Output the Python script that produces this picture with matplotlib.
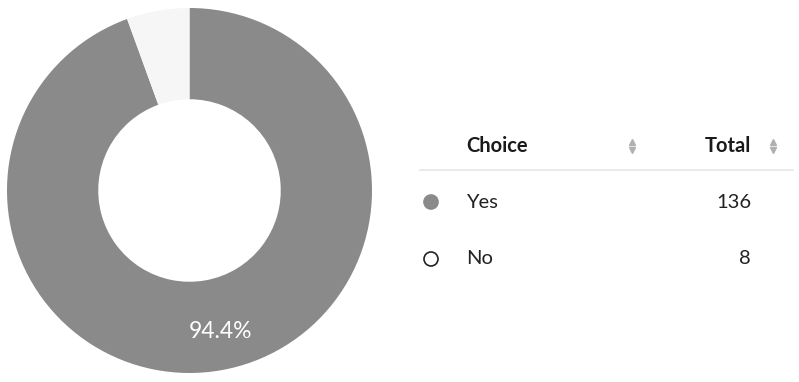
import matplotlib.pyplot as plt
from matplotlib.patches import Circle

# data
choices = ["Yes", "No"]
totals = [136, 8]
slice_colors = ["#8a8a8a", "#f6f6f6"]
header_labels = ["Choice", "Total"]

plt.rcParams["font.family"] = ["Lato", "DejaVu Sans"]

W, H = 799, 382
fig = plt.figure(figsize=(W / 100, H / 100), dpi=100)

# donut chart
ax = fig.add_axes([7 / W, 9 / H, 365 / W, 365 / H])
share = totals[0] / sum(totals) * 100
wedges, _ = ax.pie(totals, colors=slice_colors, startangle=90, counterclock=False,
                   radius=1.0, wedgeprops=dict(width=0.5, linewidth=0))
ax.text(0.17, -0.77, f"{share:.1f}%", color="white",
        fontsize=16.5, ha="center", va="center")
ax.set_xlim(-1, 1)
ax.set_ylim(-1, 1)
ax.set_aspect("equal")
ax.axis("off")

# table overlay, pixel coordinates
tx = fig.add_axes([0, 0, 1, 1])
tx.set_xlim(0, W)
tx.set_ylim(H, 0)
tx.axis("off")

tx.text(466, 146, header_labels[0], fontsize=14.5, fontweight="bold",
        color="#1a1a1a", ha="left", va="center")
tx.text(751, 146, header_labels[1], fontsize=14.5, fontweight="bold",
        color="#1a1a1a", ha="right", va="center")
for x in [632, 773]:
    tx.plot(x, 142, marker="^", markersize=4, color="#b0b0b0", linestyle="none")
    tx.plot(x, 150, marker="v", markersize=4, color="#b0b0b0", linestyle="none")
tx.plot([420, 793], [170, 170], color="#e6e6e6", linewidth=1.2)

row_y = [202, 259]
for name, total, color, y in zip(choices, totals, slice_colors, row_y):
    face = color if name == "Yes" else "white"
    edge = color if name == "Yes" else "#222222"
    tx.add_patch(Circle((431, y), 7, facecolor=face, edgecolor=edge, linewidth=1.2))
    tx.text(466, y, name, fontsize=14.5, color="#222222", ha="left", va="center")
    tx.text(751, y, str(total), fontsize=14.5, color="#222222", ha="right", va="center")

fig.savefig("out.png", dpi=100)
